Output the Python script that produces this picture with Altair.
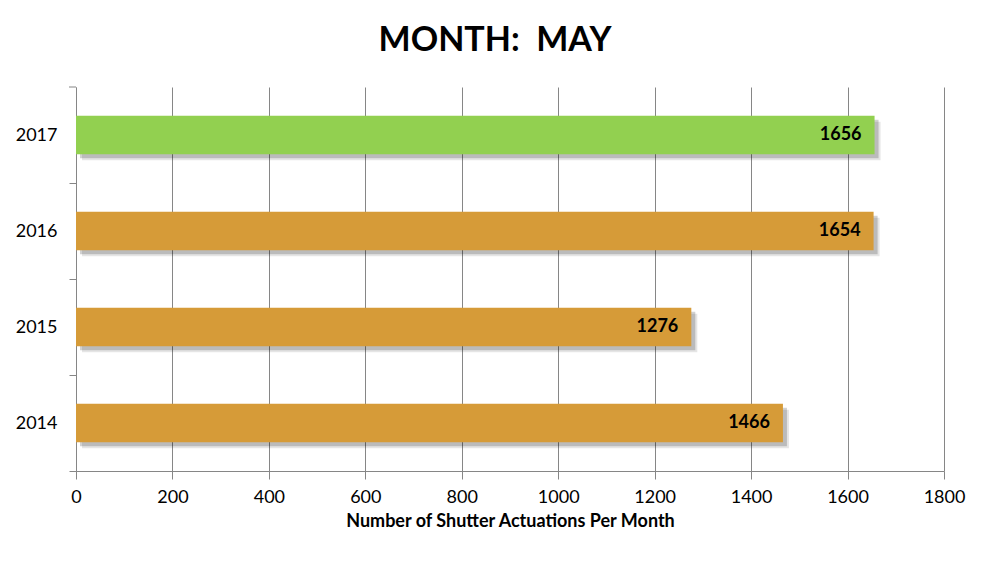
import altair as alt
import pandas as pd

years = ["2017", "2016", "2015", "2014"]
values = [1656, 1654, 1276, 1466]
colors = ["#92D050", "#D69B38", "#D69B38", "#D69B38"]
x_ticks = [0, 200, 400, 600, 800, 1000, 1200, 1400, 1600, 1800]

df = pd.DataFrame({"year": years, "value": values, "color": colors})
df_top = df[df["year"] == years[0]]

FONT = "Lato"
GRAY = "#868686"

x_enc = alt.X("value:Q",
              scale=alt.Scale(domain=[0, 1800], nice=False, zero=True),
              axis=alt.Axis(values=x_ticks, grid=True, gridColor=GRAY, gridWidth=1,
                            domainColor=GRAY, tickColor=GRAY, tickSize=8,
                            labelFontSize=18, labelFont=FONT, labelColor="#000000",
                            labelPadding=9, labelFlush=False,
                            title="Number of Shutter Actuations Per Month",
                            titleFont=FONT, titleFontSize=18, titleFontWeight="bold",
                            titleColor="#000000", titlePadding=6, format="d"))
y_enc = alt.Y("year:N", sort=years,
              scale=alt.Scale(paddingInner=0.6, paddingOuter=0.3),
              axis=alt.Axis(title=None, grid=False, tickOffset=48, labelOffset=-48,
                            domainColor=GRAY, tickColor=GRAY, tickSize=7,
                            labelFontSize=18, labelFont=FONT, labelColor="#000000",
                            labelPadding=12))

base = alt.Chart(df)

shadow2 = base.mark_bar(color="#000000", opacity=0.10, xOffset=6, yOffset=6).encode(
    x=x_enc, y=y_enc)
shadow = base.mark_bar(color="#000000", opacity=0.18, xOffset=4, yOffset=4).encode(
    x=x_enc, y=y_enc)
bars = base.mark_bar().encode(
    x=x_enc, y=y_enc, color=alt.Color("color:N", scale=None))
labels = base.mark_text(align="right", baseline="middle", dx=-13, fontWeight="bold",
                        fontSize=18, font=FONT, color="#000000").encode(
    x=alt.X("value:Q"), y=alt.Y("year:N", sort=years), text="value:Q")
top_tick = alt.Chart(df_top).mark_rule(color=GRAY, yOffset=-48).encode(
    y=alt.Y("year:N", sort=years), x=alt.value(-7), x2=alt.value(0))

chart = alt.layer(shadow2, shadow, bars, labels, top_tick).properties(
    width=868, height=384,
    title=alt.TitleParams("MONTH:\u00a0\u00a0MAY", font=FONT, fontSize=34, fontWeight="bold",
                          color="#000000", anchor="middle", dx=-15, offset=29),
    autosize=alt.AutoSizeParams(type="none"),
    padding={"left": 68, "top": 79, "right": 30, "bottom": 90},
).configure(background="#FFFFFF").configure_view(stroke=None)

chart.save("out.html", embed_options={"renderer": "svg", "actions": False})
